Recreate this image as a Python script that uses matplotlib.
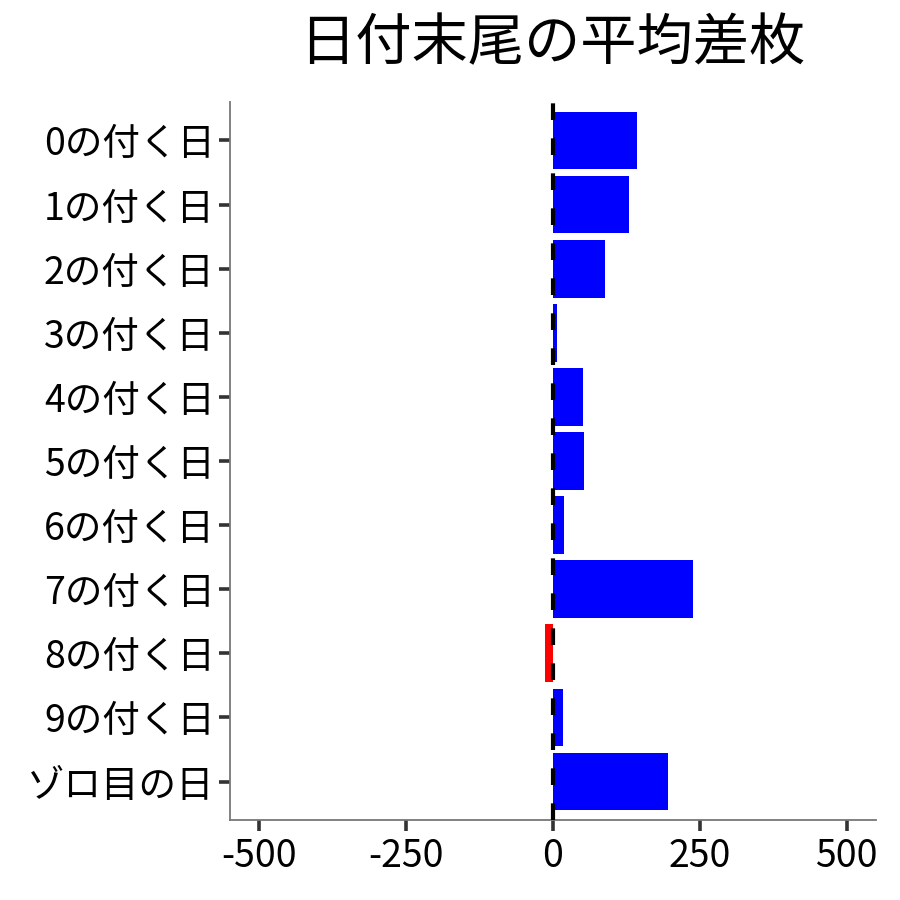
import matplotlib
matplotlib.use("Agg")
import matplotlib.pyplot as plt

plt.rcParams['font.family'] = ['Noto Sans CJK JP', 'DejaVu Sans']

# 日付末尾ごとの平均差枚
labels = ["0の付く日", "1の付く日", "2の付く日", "3の付く日", "4の付く日",
          "5の付く日", "6の付く日", "7の付く日", "8の付く日", "9の付く日", "ゾロ目の日"]
values = [143.5, 128.7, 87.9, 7.4, 51.6, 53.3, 19.3, 238.7, -14.1, 17.6, 196.2]
xticks = [-500, -250, 0, 250, 500]

colors = ["#0000FF" if v >= 0 else "#FF0000" for v in values]
pos = list(range(len(labels)))

fig = plt.figure(figsize=(9, 9), dpi=100)
ax = fig.add_axes([230 / 900, 80 / 900, 646 / 900, 718 / 900])

ax.barh(pos, values, height=0.9, color=colors, zorder=2)
ax.axvline(0, color="black", linewidth=3, linestyle=(0, (4, 4.4)), zorder=3)

ax.set_ylim(len(labels) - 0.4, -0.6)
ax.set_xlim(-550, 550)
ax.set_yticks(pos)
ax.set_yticklabels(labels)
ax.set_xticks(xticks)
ax.set_xticklabels([str(t) for t in xticks])

ax.tick_params(axis="both", labelsize=27, length=8, width=2.6, color="#333333",
               labelcolor="black", pad=3)
ax.tick_params(axis="x", pad=4)
for side in ["top", "right"]:
    ax.spines[side].set_visible(False)
for side in ["left", "bottom"]:
    ax.spines[side].set_color("#777777")
    ax.spines[side].set_linewidth(1.3)

fig.text(552 / 900, 1 - 44 / 900, "日付末尾の平均差枚", fontsize=40.5,
         ha="center", va="center")

fig.savefig("out.png", dpi=100)
